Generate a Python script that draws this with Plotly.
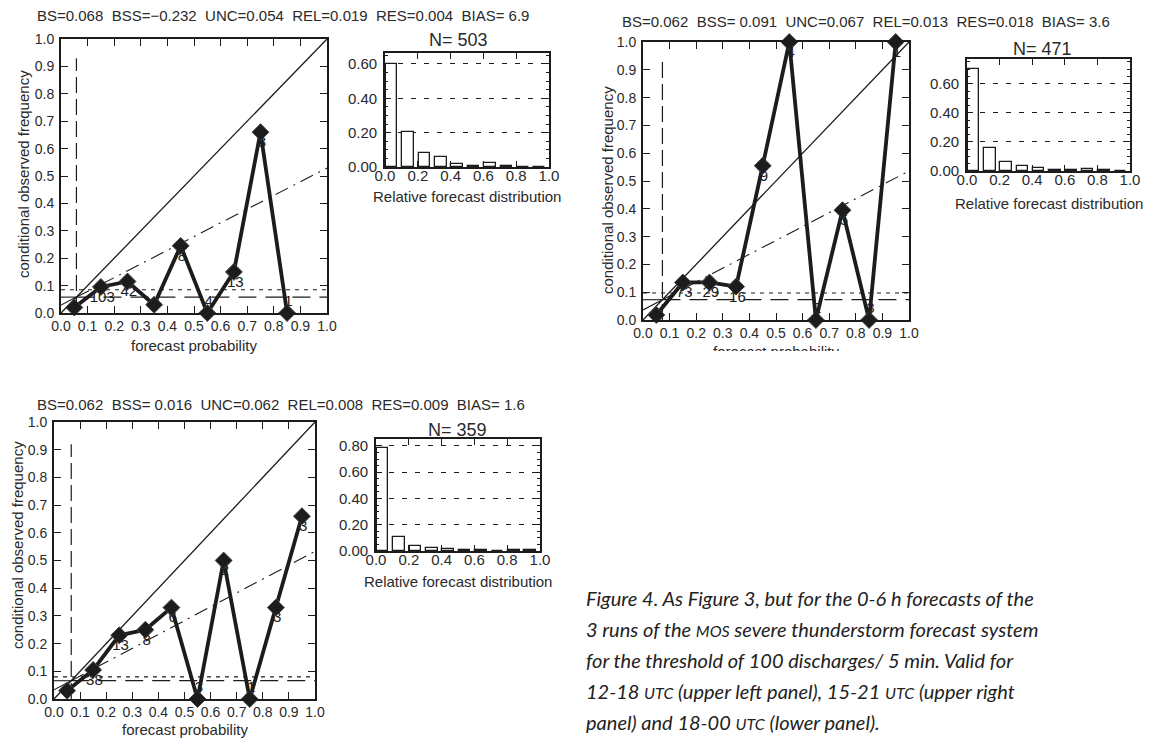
import plotly.graph_objects as go

W, H = 1158, 740
OFF = 8  # page body margin: screenshot px = figure px + OFF
INK = "#1c1c1c"
TXT = "#2a2a2a"
FONT = "Liberation Sans"

# ---------------- data ----------------
prob_bins = [0.05, 0.15, 0.25, 0.35, 0.45, 0.55, 0.65, 0.75, 0.85, 0.95]

p1_prob = [0.05, 0.15, 0.25, 0.35, 0.45, 0.55, 0.65, 0.75, 0.85]
p1_freq = [0.02, 0.095, 0.115, 0.03, 0.245, 0.0, 0.15, 0.66, 0.0]
p1_count = [301, 103, 42, 28, 8, 4, 13, 3, 1]
p1_hist = [0.598, 0.205, 0.083, 0.056, 0.016, 0.008, 0.026, 0.006, 0.002, 0.0]
p1_clim = 0.058
p1_dotted = 0.085
p1_noskill = [0.029, 0.529]
p1_vtop = 0.93
p1_title = "BS=0.068  BSS=\u22120.232  UNC=0.054  REL=0.019  RES=0.004  BIAS= 6.9"
p1_n = "N= 503"

p2_prob = [0.05, 0.15, 0.25, 0.35, 0.45, 0.55, 0.65, 0.75, 0.85, 0.95]
p2_freq = [0.018, 0.135, 0.135, 0.12, 0.555, 1.0, 0.0, 0.395, 0.0, 1.0]
p2_count = [329, 73, 29, 16, 9, 4, 2, 5, 3, 1]
p2_hist = [0.699, 0.155, 0.062, 0.034, 0.019, 0.008, 0.004, 0.011, 0.006, 0.002]
p2_clim = 0.073
p2_dotted = 0.097
p2_noskill = [0.036, 0.536]
p2_vtop = 0.93
p2_title = "BS=0.062  BSS= 0.091  UNC=0.067  REL=0.013  RES=0.018  BIAS= 3.6"
p2_n = "N= 471"

p3_prob = [0.05, 0.15, 0.25, 0.35, 0.45, 0.55, 0.65, 0.75, 0.85, 0.95]
p3_freq = [0.03, 0.105, 0.23, 0.25, 0.33, 0.0, 0.5, 0.0, 0.33, 0.66]
p3_count = [282, 38, 13, 8, 6, 3, 2, 1, 3, 3]
p3_hist = [0.786, 0.106, 0.036, 0.022, 0.017, 0.008, 0.006, 0.003, 0.008, 0.008]
p3_clim = 0.066
p3_dotted = 0.08
p3_noskill = [0.033, 0.533]
p3_vtop = 0.92
p3_title = "BS=0.062  BSS= 0.016  UNC=0.062  REL=0.008  RES=0.009  BIAS= 1.6"
p3_n = "N= 359"

rel_ticks = [0.0, 0.1, 0.2, 0.3, 0.4, 0.5, 0.6, 0.7, 0.8, 0.9, 1.0]
rel_ticktext = ["0.0", "0.1", "0.2", "0.3", "0.4", "0.5", "0.6", "0.7", "0.8", "0.9", "1.0"]
hist_xticks = [0.0, 0.2, 0.4, 0.6, 0.8, 1.0]
hist_xticktext = ["0.0", "0.2", "0.4", "0.6", "0.8", "1.0"]
hist_yticks_a = [0.0, 0.2, 0.4, 0.6]
hist_yticktext_a = ["0.00", "0.20", "0.40", "0.60"]
hist_yticks_b = [0.0, 0.2, 0.4, 0.6, 0.8]
hist_yticktext_b = ["0.00", "0.20", "0.40", "0.60", "0.80"]

y_title = "conditional observed frequency"
x_title = "forecast probability"
hist_xtitle = "Relative forecast distribution"

SC = "<span style='font-size:16px'>{}</span>"
caption_lines = [
    "Figure 4. As Figure 3, but for the 0-6 h forecasts of the",
    "3 runs of the " + SC.format("MOS") + " severe thunderstorm forecast system",
    "for the threshold of 100 discharges/ 5 min. Valid for",
    "12-18 " + SC.format("UTC") + " (upper left panel), 15-21 " + SC.format("UTC") + " (upper right",
    "panel) and 18-00 " + SC.format("UTC") + " (lower panel).",
]

# ---------------- geometry (screenshot pixels) ----------------
panels = [
    dict(prob=p1_prob, freq=p1_freq, count=p1_count, hist=p1_hist, clim=p1_clim, dotted=p1_dotted,
         noskill=p1_noskill, vtop=p1_vtop, title=p1_title, n=p1_n,
         rel=(61, 327, 39, 313), hbox=(385, 549, 53, 167), hymax=0.664,
         hyt=(hist_yticks_a, hist_yticktext_a),
         title_xy=(35, 15), ytitle_xy=(23, 174), xtitle_y=345, n_xy=(458, 40),
         hxt_y=197),
    dict(prob=p2_prob, freq=p2_freq, count=p2_count, hist=p2_hist, clim=p2_clim, dotted=p2_dotted,
         noskill=p2_noskill, vtop=p2_vtop, title=p2_title, n=p2_n,
         rel=(643, 909, 42, 320), hbox=(967, 1130, 59, 171), hymax=0.77,
         hyt=(hist_yticks_a, hist_yticktext_a),
         title_xy=(620, 21), ytitle_xy=(607, 190), xtitle_y=None, n_xy=(1042, 49),
         hxt_y=204),
    dict(prob=p3_prob, freq=p3_freq, count=p3_count, hist=p3_hist, clim=p3_clim, dotted=p3_dotted,
         noskill=p3_noskill, vtop=p3_vtop, title=p3_title, n=p3_n,
         rel=(54, 315, 422, 699), hbox=(376, 540, 439, 551), hymax=0.853,
         hyt=(hist_yticks_b, hist_yticktext_b),
         title_xy=(35, 404), ytitle_xy=(17, 545), xtitle_y=729, n_xy=(457, 430),
         hxt_y=581),
]


def px(x):
    return (x - OFF) / W


def py(y):
    return 1 - (y - OFF) / H


def dx(a, b):
    return [px(a), px(b)]


def dy(top, bot):
    return [py(bot), py(top)]


def refs(n):
    return ("x" if n == 1 else f"x{n}", "y" if n == 1 else f"y{n}")


def keys(n):
    return ("xaxis" if n == 1 else f"xaxis{n}", "yaxis" if n == 1 else f"yaxis{n}")


fig = go.Figure()
layout = {}
annotations = []

for i, p in enumerate(panels):
    nr, nh = 2 * i + 1, 2 * i + 2
    xr, yr = refs(nr)
    xh, yh = refs(nh)
    kxr, kyr = keys(nr)
    kxh, kyh = keys(nh)
    c = p["clim"]

    common = dict(showlegend=False, hoverinfo="skip", xaxis=xr, yaxis=yr)
    # perfect reliability diagonal
    fig.add_trace(go.Scatter(x=[0, 1], y=[0, 1], mode="lines",
                             line=dict(color=INK, width=1.3), **common))
    # no-skill line (solid part then dash-dot)
    fig.add_trace(go.Scatter(x=[0, c], y=[p["noskill"][0], c], mode="lines",
                             line=dict(color=INK, width=1.1), **common))
    fig.add_trace(go.Scatter(x=[c, 1], y=[c, p["noskill"][1]], mode="lines",
                             line=dict(color=INK, width=1.1, dash="14px,6px,2px,6px"), **common))
    # climatology horizontal (solid part then long dash)
    fig.add_trace(go.Scatter(x=[0, c], y=[c, c], mode="lines",
                             line=dict(color=INK, width=1.1), **common))
    fig.add_trace(go.Scatter(x=[c, 1], y=[c, c], mode="lines",
                             line=dict(color=INK, width=1.2, dash="18px,9px"), **common))
    # dotted horizontal
    fig.add_trace(go.Scatter(x=[0, 1], y=[p["dotted"], p["dotted"]], mode="lines",
                             line=dict(color=INK, width=1.1, dash="4px,5px"), **common))
    # vertical climatology
    fig.add_trace(go.Scatter(x=[c, c], y=[0, p["vtop"]], mode="lines",
                             line=dict(color=INK, width=1.2, dash="16px,6px"), **common))
    # reliability curve
    fig.add_trace(go.Scatter(x=p["prob"], y=p["freq"], mode="lines+markers",
                             line=dict(color=INK, width=3.8),
                             marker=dict(symbol="diamond", size=13, color=INK,
                                         line=dict(color="#444", width=1)),
                             cliponaxis=False, **common))
    # count labels
    lab_y = [f - 0.04 if f > 0 else f + 0.04 for f in p["freq"]]
    lab_x = [x + 0.005 for x in p["prob"]]
    fig.add_trace(go.Scatter(x=lab_x, y=lab_y, mode="text", text=[str(v) for v in p["count"]],
                             textposition="middle center",
                             textfont=dict(family=FONT, size=15, color="#202020"),
                             cliponaxis=False, **common))

    # histogram
    fig.add_trace(go.Bar(x=prob_bins, y=p["hist"], width=0.07, offset=-0.045,
                         marker=dict(color="white", line=dict(color=INK, width=1.3)),
                         showlegend=False, hoverinfo="skip", xaxis=xh, yaxis=yh))

    l, r, t, b = p["rel"]
    rel_axis = dict(range=[0, 1], tickmode="array", tickvals=rel_ticks, ticktext=rel_ticktext,
                    ticks="inside", ticklen=7, tickwidth=1.3, tickcolor=INK, showline=True,
                    linecolor=INK, linewidth=1.8, mirror="ticks", showgrid=False, zeroline=False,
                    tickfont=dict(family=FONT, size=14, color=TXT), automargin=False,
                    fixedrange=True)
    layout[kxr] = dict(domain=dx(l, r), anchor=yr, ticklabelstandoff=-1, **rel_axis)
    layout[kyr] = dict(domain=dy(t, b), anchor=xr, ticklabelstandoff=2, **rel_axis)
    hl, hr, ht, hb = p["hbox"]
    hist_axis = dict(ticks="inside", ticklen=6, tickwidth=1.2, tickcolor=INK, showline=True,
                     linecolor=INK, linewidth=1.6, mirror="ticks", zeroline=False,
                     tickfont=dict(family=FONT, size=15, color=TXT), automargin=False,
                     fixedrange=True, tickmode="array")
    layout[kxh] = dict(domain=dx(hl, hr), anchor=yh, range=[0, 1],
                       tickvals=hist_xticks, ticktext=hist_xticktext, showgrid=False,
                       ticklabelstandoff=-6, **hist_axis)
    layout[kyh] = dict(domain=dy(ht, hb), anchor=xh, range=[0, p["hymax"]],
                       tickvals=p["hyt"][0], ticktext=p["hyt"][1],
                       showgrid=True, gridcolor=INK, gridwidth=1.1, griddash="5px,8px",
                       minor=dict(tickmode="linear", tick0=0, dtick=0.05, ticks="inside",
                                  ticklen=3, tickcolor=INK, tickwidth=1),
                       ticklabelstandoff=3, **hist_axis)

    # texts
    tx, ty = p["title_xy"]
    annotations.append(dict(text=p["title"], x=px(tx), y=py(ty), xref="paper", yref="paper",
                            xanchor="left", yanchor="middle", showarrow=False,
                            font=dict(family=FONT, size=15, color=TXT)))
    yx, yy = p["ytitle_xy"]
    annotations.append(dict(text=y_title, x=px(yx), y=py(yy), xref="paper", yref="paper",
                            xanchor="center", yanchor="middle", textangle=-90, showarrow=False,
                            font=dict(family=FONT, size=15, color=TXT)))
    if p["xtitle_y"] is not None:
        annotations.append(dict(text=x_title, x=px((l + r) / 2), y=py(p["xtitle_y"]),
                                xref="paper", yref="paper", xanchor="center", yanchor="middle",
                                showarrow=False, font=dict(family=FONT, size=15, color=TXT)))
    nx, ny = p["n_xy"]
    annotations.append(dict(text=p["n"], x=px(nx), y=py(ny), xref="paper", yref="paper",
                            xanchor="center", yanchor="middle", showarrow=False,
                            font=dict(family=FONT, size=18, color=TXT)))
    annotations.append(dict(text=hist_xtitle, x=px((hl + hr) / 2), y=py(p["hxt_y"]),
                            xref="paper", yref="paper", xanchor="center", yanchor="middle",
                            showarrow=False, font=dict(family=FONT, size=15, color=TXT)))

# clipped x-title of the upper-right panel (cut off in the scan)
fig.add_trace(go.Scatter(x=[0.489], y=[-0.12], mode="text", text=[x_title],
                         textposition="middle center", textfont=dict(family=FONT, size=15, color=TXT),
                         cliponaxis=True, showlegend=False, hoverinfo="skip",
                         xaxis="x7", yaxis="y7"))
layout["xaxis7"] = dict(domain=dx(600, 960), anchor="y7", range=[0, 1], visible=False,
                        fixedrange=True, automargin=False)
layout["yaxis7"] = dict(domain=dy(330, 351), anchor="x7", range=[0, 1], visible=False,
                        fixedrange=True, automargin=False)

# caption
cap_y = [598, 629, 660, 691, 722]
for line, yy in zip(caption_lines, cap_y):
    annotations.append(dict(text="<i>" + line + "</i>", x=px(584), y=py(yy), xref="paper",
                            yref="paper", xanchor="left", yanchor="middle", showarrow=False,
                            font=dict(family="Lato", size=20, color="#222")))

fig.update_layout(template="none", width=W, height=H, margin=dict(l=0, r=0, t=0, b=0),
                  paper_bgcolor="white", plot_bgcolor="white",
                  annotations=annotations, bargap=0, **layout)

fig.write_html("out.html")
